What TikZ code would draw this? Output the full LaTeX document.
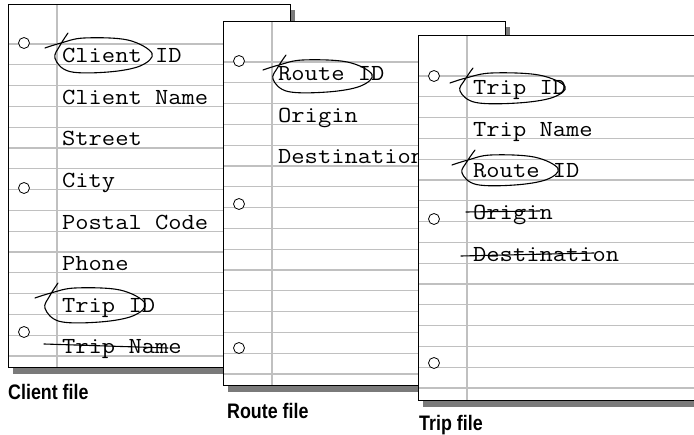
\documentclass[tikz,border=0pt]{standalone}
\usepackage{fontspec}
\newfontfamily\lblfont[FakeStretch=0.85]{Liberation Sans}
\definecolor{ruleGray}{RGB}{192,192,192}
\definecolor{shadowGray}{RGB}{122,122,122}
\newcommand\fld[1]{\scalebox{1.12}[1]{#1}}
\tikzset{
  rule/.style={draw=ruleGray,line width=1.3pt},
  border/.style={draw=black,line width=1pt},
  hole/.style={draw=black,fill=white,line width=0.8pt},
  field/.style={anchor=base west,inner sep=0pt,font=\ttfamily\fontsize{23}{23}\selectfont},
  lbl/.style={anchor=base west,inner sep=0pt,font=\lblfont\bfseries\fontsize{21}{21}\selectfont},
  pen/.style={draw=black,line width=1.1pt,line cap=round,line join=round},
}
% sheet: left, top, right, bottom, first rule y
\newcommand\papersheet[5]{%
  \fill[shadowGray] ({#1+5},{#2+5}) rectangle ({#3+5},{#4+6});
  \fill[white] (#1,#2) rectangle (#3,#4);
  \foreach \k in {0,...,15} \draw[rule] (#1,{#5+20.8*\k}) -- (#3,{#5+20.8*\k});
  \draw[rule] ({#1+49},#2) -- ({#1+49},#4);
  \draw[border] (#1,#2) rectangle (#3,#4);
}
% hand-drawn loop: left, right, top, bottom
\newcommand\handloop[4]{%
  \draw[pen] plot[smooth,tension=0.6] coordinates {
    ({#1-10},{#3+10}) ({#1+6},{#3+5}) ({#1+0.3*(#2-#1)},{#3}) ({#1+0.75*(#2-#1)},{#3+2})
    ({#2},{#3+0.45*(#4-#3)}) ({#2-0.12*(#2-#1)},{#3+0.82*(#4-#3)}) ({#1+0.55*(#2-#1)},{#4})
    ({#1+0.15*(#2-#1)},{#4-0.5}) ({#1},{#3+0.6*(#4-#3)}) ({#1+5},{#3+0.22*(#4-#3)}) ({#1+13},{#3-5})};
}
\begin{document}
\begin{tikzpicture}[x=1pt,y=-1pt]
\useasboundingbox (0,0) rectangle (694,435);
\fill[white] (0,0) rectangle (694,435);
% ---------- Client file ----------
\papersheet{8}{5}{290}{368}{44}
\foreach \yy in {43,188,332} \draw[hole] (24,\yy) circle (5.5);
\node[field] (c1) at (62,62.8) {\fld{Client ID}};
\node[field] (c2) at (62,104.4) {\fld{Client Name}};
\node[field] (c3) at (62,146) {\fld{Street}};
\node[field] (c4) at (62,187.6) {\fld{City}};
\node[field] (c5) at (62,229.2) {\fld{Postal Code}};
\node[field] (c6) at (62,270.8) {\fld{Phone}};
\node[field] (c7) at (62,312.4) {\fld{Trip ID}};
\node[field] (c8) at (62,354) {\fld{Trip Name}};
\handloop{55}{152}{38}{72}
\handloop{45}{145}{288}{322}
\draw[pen] (44,344) -- (168,348);
\node[lbl] (lc) at (8,400) {Client file};
% ---------- Route file ----------
\papersheet{223}{22}{505}{386}{62}
\foreach \yy in {61,204,348} \draw[hole] (239,\yy) circle (5.5);
\node[field] (r1) at (278,80.8) {\fld{Route ID}};
\node[field] (r2) at (278,122.4) {\fld{Origin}};
\node[field] (r3) at (278,164) {\fld{Destination}};
\handloop{273}{372}{60}{92}
\node[lbl] (lr) at (227,419) {Route file};
% ---------- Trip file ----------
\papersheet{418}{36}{710}{401}{76}
\foreach \yy in {76,219,363} \draw[hole] (434,\yy) circle (5.5);
\node[field] (t1) at (473,94.8) {\fld{Trip ID}};
\node[field] (t2) at (473,136.4) {\fld{Trip Name}};
\node[field] (t3) at (473,178) {\fld{Route ID}};
\node[field] (t4) at (473,219.6) {\fld{Origin}};
\node[field] (t5) at (473,261.2) {\fld{Destination}};
\handloop{460}{565}{73}{103}
\handloop{462}{558}{155}{185}
\draw[pen] (466,212) -- (540,211);
\draw[pen] (461,256) -- (594,253);
\node[lbl] (lt) at (419,431) {Trip file};
\end{tikzpicture}
\end{document}
